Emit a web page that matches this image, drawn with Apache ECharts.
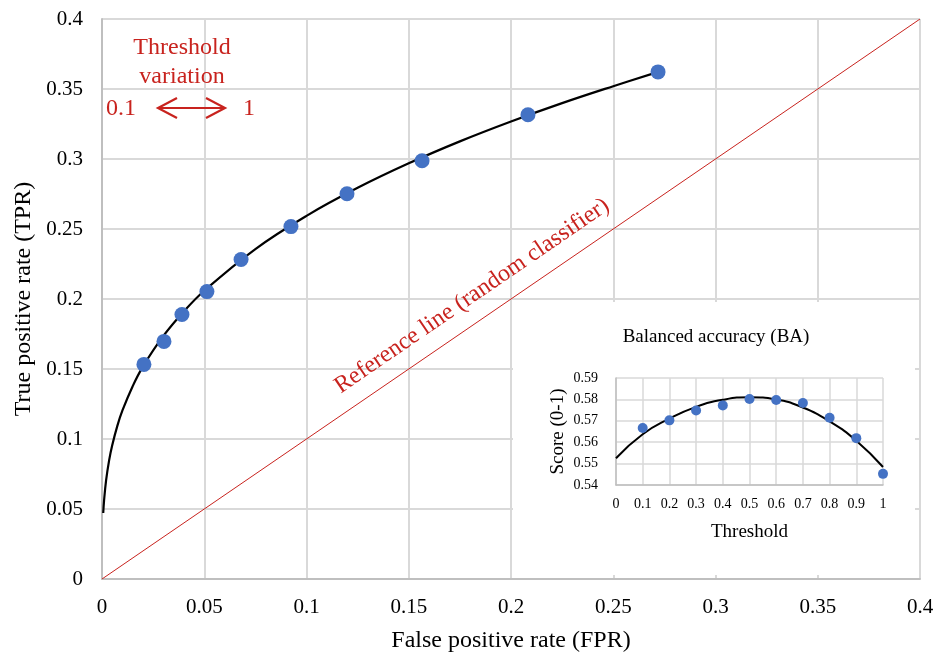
<!DOCTYPE html>
<html>
<head>
<meta charset="utf-8">
<script src="https://cdn.jsdelivr.net/npm/echarts@6/dist/echarts.min.js"></script>
<style>html,body{margin:0;padding:0;background:#fff;}#c{width:939px;height:658px;}</style>
</head>
<body>
<div id="c"></div>
<script>
// ---- Main ROC chart data ----
const rocFPR = [0.0205, 0.0303, 0.0391, 0.0513, 0.0680, 0.0924, 0.1198, 0.1565, 0.2083, 0.2719];
const rocTPR = [0.1533, 0.1697, 0.1889, 0.2053, 0.2282, 0.2517, 0.2752, 0.2988, 0.3316, 0.3622];
// trend curve
const fitX = [0.0006, 0.001, 0.002, 0.0035, 0.005, 0.0075, 0.01, 0.015, 0.02, 0.03, 0.04, 0.05, 0.075, 0.1, 0.125, 0.15, 0.175, 0.2, 0.225, 0.25, 0.272];
const fitY = [0.0471, 0.0559, 0.0704, 0.0849, 0.0955, 0.1094, 0.1204, 0.1377, 0.1517, 0.1736, 0.1911, 0.2059, 0.2357, 0.2594, 0.2794, 0.2969, 0.3126, 0.3268, 0.3399, 0.3520, 0.3622];
// reference line (random classifier)
const refX = [0, 0.4];
const refY = [0, 0.4];
// ---- Inset: balanced accuracy ----
const baThreshold = [0.1, 0.2, 0.3, 0.4, 0.5, 0.6, 0.7, 0.8, 0.9, 1.0];
const baScore = [0.5666, 0.5702, 0.5748, 0.5772, 0.5802, 0.5797, 0.5783, 0.5714, 0.5619, 0.5452];
const baFitX = [0, 0.1, 0.2, 0.3, 0.4, 0.5, 0.6, 0.7, 0.8, 0.9, 1.0];
const baFitY = [0.5525, 0.5637, 0.5710, 0.5765, 0.5798, 0.5810, 0.5800, 0.5762, 0.5697, 0.5607, 0.5484];

const FONT = 'Liberation Serif';
const RED = '#c8231e';
const GRID_C = '#d9d9d9';
const AXIS_C = '#bfbfbf';

const zip = (a, b) => a.map((v, i) => [v, b[i]]);

const chart = echarts.init(document.getElementById('c'), null, {renderer: 'canvas'});
chart.setOption({
  animation: false,
  backgroundColor: '#fff',
  grid: [
    {left: 102, right: 19, top: 19, bottom: 78},
    {left: 616, right: 56, top: 378, bottom: 173}
  ],
  xAxis: [
    {
      type: 'value', gridIndex: 0, min: 0, max: 0.4, interval: 0.05,
      name: 'False positive rate (FPR)', nameLocation: 'middle', nameGap: 50,
      nameTextStyle: {fontFamily: FONT, fontSize: 24, color: '#000'},
      axisLine: {show: true, lineStyle: {color: AXIS_C, width: 2}},
      axisTick: {show: false},
      axisLabel: {fontFamily: FONT, fontSize: 21, color: '#000', margin: 18},
      splitLine: {show: true, lineStyle: {color: GRID_C, width: 2}}
    },
    {
      type: 'value', gridIndex: 1, min: 0, max: 1, interval: 0.1, z: 3,
      name: 'Threshold', nameLocation: 'middle', nameGap: 38,
      nameTextStyle: {fontFamily: FONT, fontSize: 19, color: '#000'},
      axisLine: {show: true, lineStyle: {color: AXIS_C, width: 1.5}},
      axisTick: {show: false},
      axisLabel: {fontFamily: FONT, fontSize: 14, color: '#000', margin: 12},
      splitLine: {show: true, lineStyle: {color: GRID_C, width: 1.5}}
    }
  ],
  yAxis: [
    {
      type: 'value', gridIndex: 0, min: 0, max: 0.4, interval: 0.05,
      name: 'True positive rate (TPR)', nameLocation: 'middle', nameGap: 66,
      nameTextStyle: {fontFamily: FONT, fontSize: 24, color: '#000'},
      axisLine: {show: true, lineStyle: {color: AXIS_C, width: 2}},
      axisTick: {show: false},
      axisLabel: {fontFamily: FONT, fontSize: 21, color: '#000', margin: 19},
      splitLine: {show: true, lineStyle: {color: GRID_C, width: 2}}
    },
    {
      type: 'value', gridIndex: 1, min: 0.54, max: 0.59, interval: 0.01, z: 3,
      name: 'Score (0-1)', nameLocation: 'middle', nameGap: 48,
      nameTextStyle: {fontFamily: FONT, fontSize: 19, color: '#000'},
      axisLine: {show: true, lineStyle: {color: AXIS_C, width: 1.5}},
      axisTick: {show: false},
      axisLabel: {fontFamily: FONT, fontSize: 14, color: '#000', margin: 18},
      splitLine: {show: true, lineStyle: {color: GRID_C, width: 1.5}}
    }
  ],
  graphic: [
    {type: 'rect', z: 1, shape: {x: 513, y: 302, width: 402, height: 273}, style: {fill: '#fff'}},
    {type: 'text', z: 5, x: 716, y: 337, style: {text: 'Balanced accuracy (BA)', font: '19px "Liberation Serif"', fill: '#000', align: 'center', verticalAlign: 'middle'}},
    {type: 'text', z: 5, x: 182, y: 48, style: {text: 'Threshold', font: '24px "Liberation Serif"', fill: RED, align: 'center', verticalAlign: 'middle'}},
    {type: 'text', z: 5, x: 182, y: 77, style: {text: 'variation', font: '24px "Liberation Serif"', fill: RED, align: 'center', verticalAlign: 'middle'}},
    {type: 'text', z: 5, x: 121, y: 109, style: {text: '0.1', font: '24px "Liberation Serif"', fill: RED, align: 'center', verticalAlign: 'middle'}},
    {type: 'text', z: 5, x: 249, y: 109, style: {text: '1', font: '24px "Liberation Serif"', fill: RED, align: 'center', verticalAlign: 'middle'}},
    {type: 'polyline', z: 5, shape: {points: [[158, 108], [225, 108]]}, style: {stroke: RED, lineWidth: 2.2, fill: null}},
    {type: 'polyline', z: 5, shape: {points: [[177, 98], [158, 108], [177, 118]]}, style: {stroke: RED, lineWidth: 2.2, fill: null}},
    {type: 'polyline', z: 5, shape: {points: [[206, 98], [225, 108], [206, 118]]}, style: {stroke: RED, lineWidth: 2.2, fill: null}},
    {type: 'text', z: 5, x: 472, y: 296, rotation: 0.601, style: {text: 'Reference line (random classifier)', font: '24px "Liberation Serif"', fill: RED, align: 'center', verticalAlign: 'middle'}}
  ],
  series: [
    {
      type: 'line', xAxisIndex: 0, yAxisIndex: 0, data: zip(refX, refY),
      showSymbol: false, symbol: 'none', lineStyle: {color: RED, width: 1}, z: 2
    },
    {
      type: 'line', xAxisIndex: 0, yAxisIndex: 0, data: zip(fitX, fitY), smooth: 0.4,
      showSymbol: false, symbol: 'none', lineStyle: {color: '#000', width: 2.2}, z: 3
    },
    {
      type: 'scatter', xAxisIndex: 0, yAxisIndex: 0, data: zip(rocFPR, rocTPR),
      symbolSize: 15, itemStyle: {color: '#4472c4', opacity: 1}, z: 4
    },
    {
      type: 'line', xAxisIndex: 1, yAxisIndex: 1, data: zip(baFitX, baFitY), smooth: 0.5,
      showSymbol: false, symbol: 'none', lineStyle: {color: '#000', width: 2}, z: 5
    },
    {
      type: 'scatter', xAxisIndex: 1, yAxisIndex: 1, data: zip(baThreshold, baScore),
      symbolSize: 10, itemStyle: {color: '#4472c4', opacity: 1}, z: 6
    }
  ]
});
</script>
</body>
</html>
